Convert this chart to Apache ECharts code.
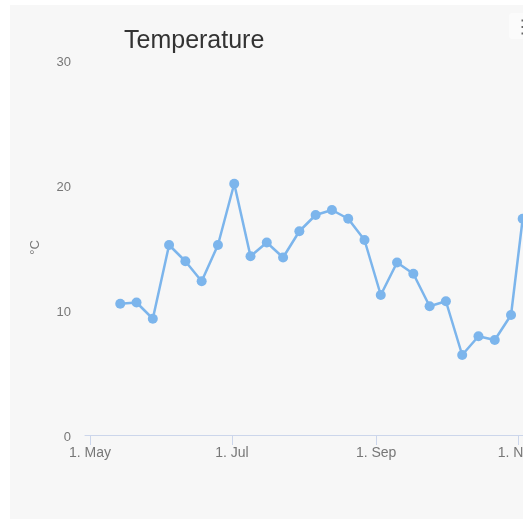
<!DOCTYPE html>
<html>
<head>
<meta charset="utf-8">
<script src="https://cdn.jsdelivr.net/npm/echarts@6/dist/echarts.min.js"></script>
<style>
  html, body { margin: 0; padding: 0; background: #ffffff; overflow: hidden; width: 523px; height: 519px; }
  #chart { position: absolute; left: 10px; top: 5px; width: 600px; height: 520px; background: #f7f7f7; }
</style>
</head>
<body>
<div id="chart"></div>
<script>
// ---- data ----
const titleText = 'Temperature';
const yAxisName = '°C';
const dates = [
  '2017-05-14', '2017-05-21', '2017-05-28', '2017-06-04', '2017-06-11', '2017-06-18', '2017-06-25',
  '2017-07-02', '2017-07-09', '2017-07-16', '2017-07-23', '2017-07-30', '2017-08-06', '2017-08-13',
  '2017-08-20', '2017-08-27', '2017-09-03', '2017-09-10', '2017-09-17', '2017-09-24', '2017-10-01',
  '2017-10-08', '2017-10-15', '2017-10-22', '2017-10-29', '2017-11-03'
];
const temps = [
  10.5, 10.6, 9.3, 15.2, 13.9, 12.3, 15.2,
  20.1, 14.3, 15.4, 14.2, 16.3, 17.6, 18.0,
  17.3, 15.6, 11.2, 13.8, 12.9, 10.3, 10.7,
  6.4, 7.9, 7.6, 9.6, 17.3
];
const tickDates = ['2017-05-01', '2017-07-01', '2017-09-01', '2017-11-01'];
const monthNames = ['Jan','Feb','Mar','Apr','May','Jun','Jul','Aug','Sep','Oct','Nov','Dec'];
const yTicks = { min: 0, max: 30, interval: 10 };

// ---- chart ----
function ts(s) { const p = s.split('-').map(Number); return Date.UTC(p[0], p[1] - 1, p[2]); }
const msDay = 86400000;
const xMin = ts('2017-05-01') - 2.15 * msDay;
const xMax = ts('2017-12-01');
const tickVals = tickDates.map(ts);
const font = 'Liberation Sans, Arial, sans-serif';

const chart = echarts.init(document.getElementById('chart'), null, { renderer: 'canvas' });
chart.setOption({
  backgroundColor: '#f7f7f7',
  animation: false,
  title: {
    text: titleText,
    left: 114,
    top: 24,
    padding: 0,
    textStyle: { fontFamily: font, fontSize: 25, fontWeight: 'normal', color: '#333333' }
  },
  grid: { left: 75, top: 55, height: 375, width: 502.8, containLabel: false },
  xAxis: {
    type: 'value',
    min: xMin,
    max: xMax,
    axisLine: { show: true, lineStyle: { color: '#ccd6eb', width: 1 } },
    axisTick: { show: true, length: 10, lineStyle: { color: '#ccd6eb' }, customValues: tickVals },
    splitLine: { show: false },
    axisLabel: {
      customValues: tickVals,
      margin: 11,
      color: '#777777',
      fontSize: 14,
      fontFamily: font,
      formatter: function (v) { const d = new Date(v); return d.getUTCDate() + '. ' + monthNames[d.getUTCMonth()]; }
    }
  },
  yAxis: {
    type: 'value',
    min: yTicks.min,
    max: yTicks.max,
    interval: yTicks.interval,
    name: yAxisName,
    nameLocation: 'middle',
    nameRotate: 90,
    nameGap: 43,
    nameTextStyle: { color: '#777777', fontSize: 13, fontFamily: font },
    axisLine: { show: false },
    axisTick: { show: false },
    splitLine: { show: false },
    axisLabel: { margin: 14, color: '#777777', fontSize: 13, fontFamily: font, verticalAlign: 'top', lineHeight: 5 }
  },
  series: [{
    type: 'line',
    data: dates.map((d, i) => [ts(d), temps[i]]),
    symbol: 'circle',
    symbolSize: 10,
    showAllSymbol: true,
    lineStyle: { color: '#7cb5ec', width: 2.5 },
    itemStyle: { color: '#7cb5ec' },
    clip: false
  }],
  graphic: [
    { type: 'rect', shape: { x: 499, y: 8, width: 26, height: 26, r: 3 }, style: { fill: '#fbfbfb' }, silent: true },
    { type: 'line', shape: { x1: 511.5, y1: 15.5, x2: 524, y2: 15.5 }, style: { stroke: '#666666', lineWidth: 2 }, silent: true },
    { type: 'line', shape: { x1: 511.5, y1: 22, x2: 524, y2: 22 }, style: { stroke: '#666666', lineWidth: 2 }, silent: true },
    { type: 'line', shape: { x1: 511.5, y1: 28.5, x2: 524, y2: 28.5 }, style: { stroke: '#666666', lineWidth: 2 }, silent: true }
  ]
});
</script>
</body>
</html>
